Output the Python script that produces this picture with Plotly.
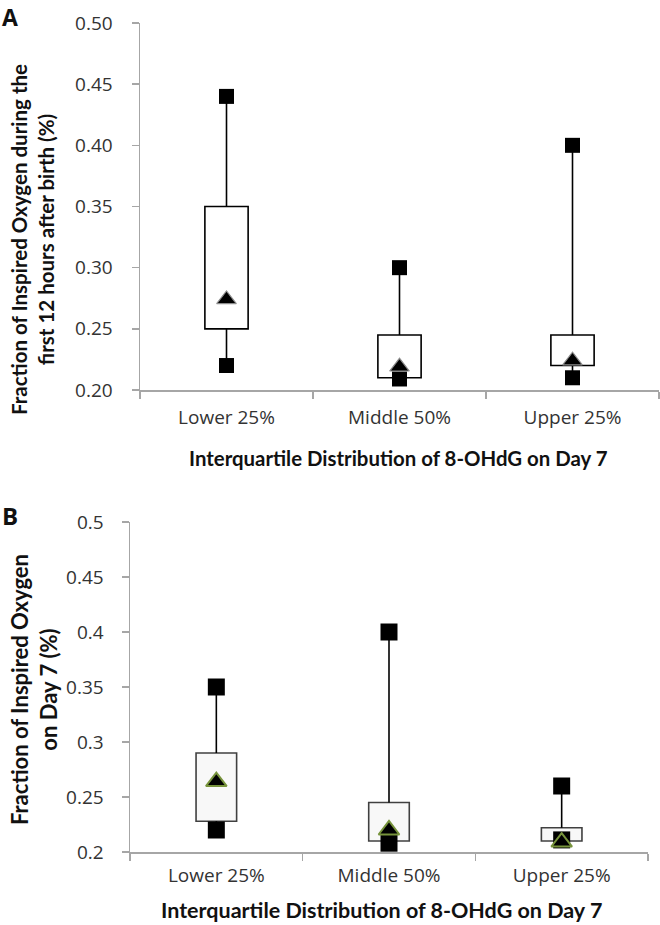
import plotly.graph_objects as go

W, H = 660, 925

categories = ["Lower 25%", "Middle 50%", "Upper 25%"]

# Panel A: FiO2 during first 12 h after birth
a_min = [0.22, 0.209, 0.21]
a_q1 = [0.25, 0.21, 0.22]
a_q3 = [0.35, 0.245, 0.245]
a_max = [0.44, 0.30, 0.40]
a_mean = [0.274, 0.219, 0.224]
a_ticks = [0.20, 0.25, 0.30, 0.35, 0.40, 0.45, 0.50]

# Panel B: FiO2 on day 7
b_min = [0.22, 0.208, 0.211]
b_q1 = [0.228, 0.21, 0.21]
b_q3 = [0.29, 0.245, 0.222]
b_max = [0.35, 0.40, 0.26]
b_mean = [0.264, 0.22, 0.209]
b_ticks = [0.2, 0.25, 0.3, 0.35, 0.4, 0.45, 0.5]


def px(x):
    return x / W


def py(y):
    return 1 - y / H


TICK = "#333333"
AXIS = "#a6a6a6"
TITLE_FONT = "Lato"
TICK_FONT = "Open Sans"


def whisker_xy(cats, lo, q1, q3, hi):
    xs, ys = [], []
    for c, l, a, b, h in zip(cats, lo, q1, q3, hi):
        xs += [c, c, None, c, c, None]
        ys += [b, h, None, a, l, None]
    return xs, ys


fig = go.Figure()


def add_panel(xa, ya, q1, q3, lo, hi, mean, box_w, fill, edge, sq, tri, tri_edge, tri_w):
    wx, wy = whisker_xy(categories, lo, q1, q3, hi)
    fig.add_trace(go.Scatter(
        x=wx, y=wy, mode="lines", line=dict(color="black", width=1.6),
        xaxis=xa, yaxis=ya, showlegend=False, hoverinfo="skip",
    ))
    fig.add_trace(go.Bar(
        x=categories, y=[b - a for a, b in zip(q1, q3)], base=q1, width=box_w,
        marker=dict(color=fill, line=dict(color=edge, width=1.6)),
        xaxis=xa, yaxis=ya, showlegend=False, hoverinfo="skip",
    ))
    fig.add_trace(go.Scatter(
        x=categories + categories, y=hi + lo, mode="markers",
        marker=dict(symbol="square", size=sq, color="black"),
        xaxis=xa, yaxis=ya, showlegend=False, cliponaxis=False,
    ))
    fig.add_trace(go.Scatter(
        x=categories, y=mean, mode="markers",
        marker=dict(symbol="triangle-up", size=tri, color="black",
                    line=dict(color=tri_edge, width=tri_w)),
        xaxis=xa, yaxis=ya, showlegend=False, cliponaxis=False,
    ))


add_panel("x", "y", a_q1, a_q3, a_min, a_max, a_mean, 0.25, "white", "black",
          15, 17, "#8c8c8c", 1.2)
add_panel("x2", "y2", b_q1, b_q3, b_min, b_max, b_mean, 0.235, "#f8f8f8", "#404040",
          17, 18, "#77933c", 2)

common_x = dict(type="category", range=[-0.5, 2.5], tickson="boundaries",
                ticks="outside", ticklen=7, tickcolor=AXIS, tickwidth=1.5,
                showline=True, linecolor=AXIS, linewidth=1.5, showgrid=False,
                zeroline=False, automargin=False,
                tickfont=dict(family=TICK_FONT, size=19, color=TICK))
common_y = dict(range=[0.2, 0.5], ticks="outside", ticklen=7, tickcolor=AXIS,
                tickwidth=1.5, showline=True, linecolor=AXIS, linewidth=1.5,
                showgrid=False, zeroline=False, automargin=False,
                tickfont=dict(family=TICK_FONT, size=19, color=TICK))

fig.update_layout(
    width=W, height=H, margin=dict(l=0, r=0, t=0, b=0),
    paper_bgcolor="white", plot_bgcolor="white", barmode="overlay",
    xaxis=dict(common_x, domain=[px(140), px(659)], anchor="y",
               ticklabelstandoff=10),
    yaxis=dict(common_y, domain=[py(390), py(23)], anchor="x",
               tickvals=a_ticks, tickformat=".2f", ticklabelstandoff=15),
    xaxis2=dict(common_x, domain=[px(130), px(648)], anchor="y2",
                ticklabelstandoff=6),
    yaxis2=dict(common_y, domain=[py(852), py(522)], anchor="x2",
                tickvals=b_ticks, tickformat="", ticklabelstandoff=14),
)

ann = [
    dict(text="<b>A</b>", x=px(10), y=1.0, yanchor="top", borderpad=0,
         font=dict(size=23, family="Open Sans")),
    dict(text="<b>B</b>", x=px(10), y=py(515), font=dict(size=24, family="Open Sans")),
    dict(text="<b>Interquartile Distribution of 8-OHdG on Day 7</b>", x=px(399), y=py(458),
         font=dict(size=20.4, family=TITLE_FONT)),
    dict(text="<b>Interquartile Distribution of 8-OHdG on Day 7</b>", x=px(381), y=py(910),
         font=dict(size=21.5, family=TITLE_FONT)),
    dict(text="<b>Fraction of Inspired Oxygen during the<br>first 12 hours after birth (%)</b>",
         x=px(32), y=py(240), textangle=-90, font=dict(size=20.5, family=TITLE_FONT)),
    dict(text="<b>Fraction of Inspired Oxygen<br>on Day 7 (%)</b>",
         x=px(34), y=py(690), textangle=-90, font=dict(size=22, family=TITLE_FONT)),
]
for a in ann:
    a.setdefault("yanchor", "middle")
    a.update(xref="paper", yref="paper", showarrow=False, xanchor="center")
    a["font"]["color"] = "#111111"
fig.update_layout(annotations=ann)

fig.write_html(
    "out.html",
    config={"displayModeBar": False, "staticPlot": True},
    post_script="document.body.style.margin='0';document.body.style.overflow='hidden';",
)
